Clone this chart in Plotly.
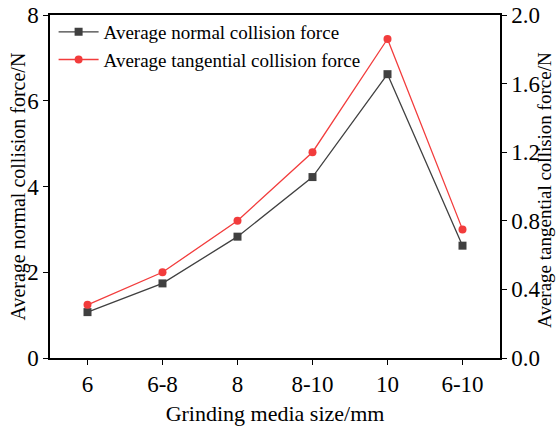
import plotly.graph_objects as go

sizes = ["6", "6-8", "8", "8-10", "10", "6-10"]
normal_force = [1.07, 1.74, 2.83, 4.22, 6.62, 2.62]
tangential_force = [0.31, 0.50, 0.80, 1.20, 1.86, 0.75]

FONT = "Liberation Serif, Times New Roman, serif"
GRAY = "#404040"
RED = "#f23c3c"

fig = go.Figure()
fig.add_trace(go.Scatter(
    x=sizes, y=normal_force, name="Average normal collision force",
    mode="lines+markers", line=dict(color=GRAY, width=1.3),
    marker=dict(symbol="square", size=8, color=GRAY), yaxis="y",
))
fig.add_trace(go.Scatter(
    x=sizes, y=tangential_force, name="Average tangential collision force",
    mode="lines+markers", line=dict(color=RED, width=1.3),
    marker=dict(symbol="circle", size=8, color=RED), yaxis="y2",
))

axis_common = dict(
    showgrid=False, zeroline=False, showline=True, linecolor="black", linewidth=1.5,
    ticks="outside", ticklen=5, tickwidth=1.2, tickcolor="black",
    tickfont=dict(family=FONT, size=23, color="black"),
    automargin=False,
)

fig.update_layout(
    width=556, height=426,
    margin=dict(l=50, r=56, t=15, b=68),
    paper_bgcolor="white", plot_bgcolor="white",
    font=dict(family=FONT, color="black"),
    showlegend=True,
    legend=dict(x=0.008, y=1.006, xanchor="left", yanchor="top",
                bgcolor="rgba(0,0,0,0)", font=dict(family=FONT, size=19, color="black"),
                tracegroupgap=0, itemwidth=40),
    xaxis=dict(
        **axis_common, mirror=True, type="category", range=[-0.5, 5.5],
        title=dict(text="Grinding media size/mm", font=dict(family=FONT, size=22), standoff=10),
    ),
    yaxis=dict(**axis_common, range=[0, 8], tickvals=[0, 2, 4, 6, 8]),
    yaxis2=dict(
        **axis_common, overlaying="y", side="right", range=[0, 2],
        tickvals=[0, 0.4, 0.8, 1.2, 1.6, 2.0], tickformat=".1f",
    ),
    annotations=[
        dict(text="Average normal collision force/N", textangle=-90,
             xref="paper", yref="paper", x=0, y=0.5, xshift=-32,
             xanchor="center", yanchor="middle", showarrow=False,
             font=dict(family=FONT, size=20, color="black")),
        dict(text="Average tangential collision force/N", textangle=-90,
             xref="paper", yref="paper", x=1, y=0.49, xshift=45,
             xanchor="center", yanchor="middle", showarrow=False,
             font=dict(family=FONT, size=19, color="black")),
    ],
)

fig.write_html("out.html")
